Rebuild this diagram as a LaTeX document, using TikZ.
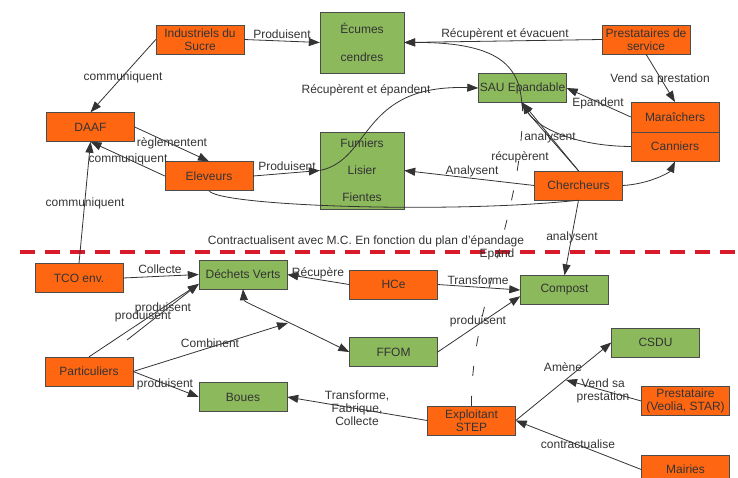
\documentclass[tikz,border=0pt]{standalone}
\usepackage{fontspec}
\setmainfont{Liberation Sans}
\usetikzlibrary{arrows.meta}
\definecolor{boxorange}{HTML}{FF6612}
\definecolor{boxgreen}{HTML}{8CB95C}
\definecolor{edgegray}{HTML}{333333}
\definecolor{zonered}{HTML}{D91A2A}

\begin{document}
\begin{tikzpicture}[x=1pt,y=-1pt,
  font=\fontsize{12}{13}\selectfont,
  actor/.style={draw=black!70, fill=boxorange, minimum width=88pt, minimum height=29pt,
    inner sep=0pt, align=center, text=black!80},
  matter/.style={draw=black!70, fill=boxgreen, minimum width=88pt, minimum height=29pt,
    inner sep=0pt, align=center, text=black!80},
  lbl/.style={inner sep=0pt, text=black!80, align=center},
  link/.style={draw=edgegray, line width=0.8pt},
  arr/.style={link, -{Triangle[length=11pt,width=8pt]}},
  dbl/.style={link, {Triangle[length=11pt,width=8pt]}-{Triangle[length=11pt,width=8pt]}},
]
\useasboundingbox (0,0) rectangle (738,477);
\clip (0,0) rectangle (738,477);

% boundary between the two zones
\draw[zonered, line width=4pt, dash pattern=on 15pt off 10pt] (20,252) -- (738,252);

% actors (orange) and materials (green)
\node[actor] (ind) at (200,39.5) {Industriels du\\Sucre};
\node[matter, minimum width=84pt, minimum height=61pt, font=\fontsize{12}{28}\selectfont] (ecu) at (362,42.5) {Écumes\\cendres};
\node[actor] (prs) at (646,39.5) {Prestataires de\\service};
\node[matter] (sau) at (522.5,88) {SAU Epandable};
\node[actor] (daaf) at (90.5,127) {DAAF};
\node[actor, minimum height=29.5pt] (mar) at (675,117) {Maraîchers};
\node[actor, minimum height=29.5pt] (can) at (675,146.5) {Canniers};
\node[matter, minimum width=84pt, minimum height=77pt, font=\fontsize{12}{27}\selectfont] (fum) at (362,170.5) {Fumiers\\Lisier\\Fientes};
\node[actor] (elev) at (209,176) {Eleveurs};
\node[actor] (cher) at (578.5,185.5) {Chercheurs};
\node[actor] (tco) at (79,278) {TCO env.};
\node[matter] (dv) at (243,274.5) {Déchets Verts};
\node[actor] (hce) at (393.5,284.5) {HCe};
\node[matter] (comp) at (564.5,290) {Compost};
\node[actor] (part) at (89,371.5) {Particuliers};
\node[matter] (ffom) at (393.5,352) {FFOM};
\node[matter] (csdu) at (655.5,342.5) {CSDU};
\node[matter] (boue) at (243,397) {Boues};
\node[actor] (exp) at (471.5,420.5) {Exploitant\\STEP};
\node[actor] (pst) at (685.5,401) {Prestataire\\(Veolia, STAR)};
\node[actor] (mai) at (685.5,469.5) {Mairies};

% helper points
\coordinate (kink) at (522,106);
\coordinate (prod2) at (127,340);
\coordinate (comb) at (288,323);
\coordinate (vend) at (566,380);

% upper zone connectors
\draw[arr] (ind.east) -- (ecu.west);
\draw[arr] (ind.west) -- (daaf.north);
\draw[arr] (prs.west) -- (ecu.east);
\draw[arr] (prs.south) -- (mar.north);
\draw[arr] (mar.west) -- (sau.east);
\draw[arr] (can.west) .. controls (570,146) and (535,125) .. (sau.south);
\draw[arr] (cher.north) -- (sau.south);
\draw[arr] (cher.north) -- (kink) .. controls (520,70) and (505,42) .. (ecu.east);
\draw[arr] (fum.west) .. controls (372,160) and (360,84) .. (sau.west);
\draw[arr] (elev.east) -- (fum.west);
\draw[arr] (daaf.east) -- (elev.north);
\draw[arr] (elev.west) -- (daaf.south);
\draw[arr] (tco.north) -- (daaf.south);
\draw[arr] (cher.west) -- (fum.east);
\draw[arr] (cher.east) .. controls (650,184) and (670,172) .. (can.south);
\draw[link] (elev.south) .. controls (218,206) and (450,214) .. (cher.south);
\draw[link, dash pattern=on 10pt off 20pt] (exp.north) .. controls (471,300) and (524,215) .. (sau.south);
\draw[arr] (cher.south) -- (comp.north);

% lower zone connectors
\draw[arr] (tco.east) -- (dv.west);
\draw[arr] (hce.west) -- (dv.east);
\draw[arr] (hce.east) -- (comp.west);
\draw[arr] (ffom.east) -- (comp.188);
\draw[arr] (part.north) -- (dv.192);
\draw[arr] (prod2) -- (dv.192);
\draw[arr] (part.east) -- (boue.west);
\draw[dbl] (dv.south) .. controls (244,302) and (252,304) .. (ffom.west);
\draw[arr] (part.east) -- (comb);
\draw[arr] (exp.west) -- (boue.east);
\draw[arr] (exp.east) -- (csdu.west);
\draw[arr] (pst.west) -- (vend);
\draw[arr] (mai.west) -- (exp.east);

% connector labels
\node[lbl] (l1) at (282,34) {Produisent};
\node[lbl] (l2) at (123,77) {communiquent};
\node[lbl] (l3) at (505,34) {Récupèrent et évacuent};
\node[lbl] (l4) at (660,79) {Vend sa prestation};
\node[lbl] (l5) at (598,103) {Epandent};
\node[lbl] (l6) at (366,90) {Récupèrent et épandent};
\node[lbl] (l7) at (172,143) {règlementent};
\node[lbl] (l8) at (128,159) {communiquent};
\node[lbl] (l9) at (85,203) {communiquent};
\node[lbl] (l10) at (287,166) {Produisent};
\node[lbl] (l11) at (472,171) {Analysent};
\node[lbl] (l12) at (550,137) {analysent};
\node[lbl] (l13) at (520,157) {récupèrent};
\node[lbl] (l14) at (366,241) {Contractualisent avec M.C. En fonction du plan d'épandage};
\node[lbl] (l15) at (497,254) {Epand};
\node[lbl] (l16) at (572,237) {analysent};
\node[lbl] (l17) at (160,269) {Collecte};
\node[lbl] (l18) at (318,273) {Récupère};
\node[lbl] (l19) at (478,280) {Transforme};
\node[lbl] (l20) at (478,321) {produisent};
\node[lbl] (l21) at (163,308) {produisent};
\node[lbl] (l22) at (143,316) {produisent};
\node[lbl] (l23) at (210,343) {Combinent};
\node[lbl] (l24) at (165,384) {produisent};
\node[lbl] (l25) at (357,408) {Transforme,\\Fabrique,\\Collecte};
\node[lbl] (l26) at (563,367) {Amène};
\node[lbl] (l27) at (603,391) {Vend sa\\prestation};
\node[lbl] (l28) at (578,444) {contractualise};
\end{tikzpicture}
\end{document}
